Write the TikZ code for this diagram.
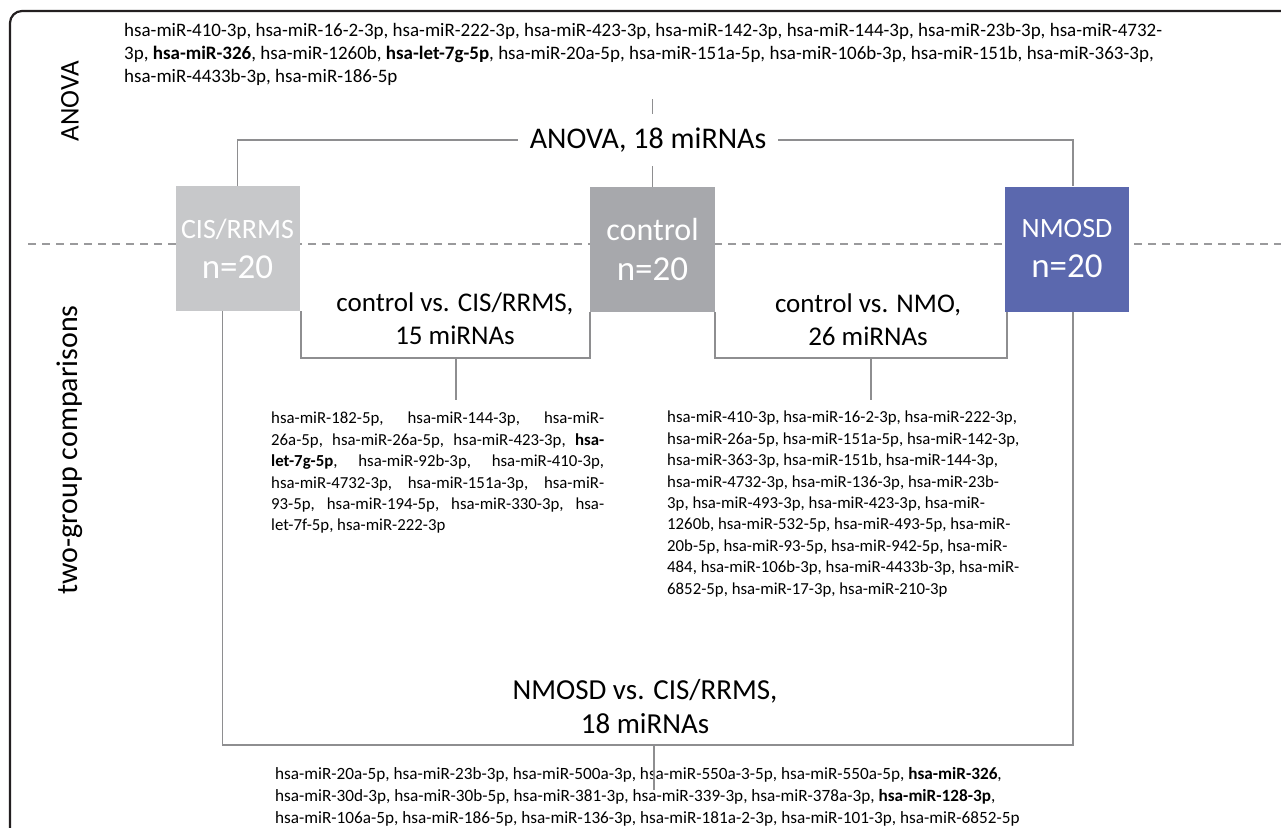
\documentclass[tikz,border=0pt]{standalone}
\usepackage{fontspec}
\setmainfont{Carlito}
\definecolor{framec}{HTML}{231F20}
\definecolor{linkc}{HTML}{8E8E90}
\definecolor{dashc}{HTML}{9A9A9C}
\definecolor{cisc}{HTML}{C7C8CA}
\definecolor{ctrlc}{HTML}{A7A8AC}
\definecolor{nmoc}{HTML}{5B68AE}
\newcommand{\fullline}[1]{\makebox[333pt][s]{#1}}
\begin{document}
\begin{tikzpicture}[x=1pt,y=-1pt,
	link/.style={draw=linkc,line width=1.6pt},
	grp/.style={minimum width=124pt,minimum height=125pt,inner sep=0,text=white,align=center,font=\fontsize{35}{40}\selectfont},
	cmp/.style={align=center,inner sep=2pt,font=\fontsize{27}{33}\selectfont},
	mirs/.style={align=left,inner sep=0,anchor=north west,font=\fontsize{16.8}{21.4}\selectfont},
	tag/.style={rotate=90,font=\fontsize{30}{36}\selectfont}]
	\useasboundingbox (0,0) rectangle (1281,827);
	\draw[framec,line width=2.2pt,rounded corners=12pt] (10,830) -- (10,11) -- (1284,11);
	\draw[dashc,line width=1.4pt,dash pattern=on 8pt off 6pt] (28,244) -- (1281,244);
	\node[tag,font=\fontsize{27}{32}\selectfont] (anovatag) at (70,101) {ANOVA};
	\node[tag] (twotag) at (70,450) {two-group comparisons};
	\node[mirs,font=\fontsize{19}{23}\selectfont] (anovalist) at (124,23) {hsa-miR-410-3p, hsa-miR-16-2-3p, hsa-miR-222-3p, hsa-miR-423-3p, hsa-miR-142-3p, hsa-miR-144-3p, hsa-miR-23b-3p, hsa-miR-4732-\\
		3p, \textbf{hsa-miR-326}, hsa-miR-1260b, \textbf{hsa-let-7g-5p}, hsa-miR-20a-5p, hsa-miR-151a-5p, hsa-miR-106b-3p, hsa-miR-151b, hsa-miR-363-3p,\\
		hsa-miR-4433b-3p, hsa-miR-186-5p};
	\node[grp,fill=cisc] (cis) at (237.5,248.5) {\fontsize{28}{40}\selectfont CIS/RRMS\\n=20};
	\node[grp,fill=ctrlc,minimum width=125pt] (ctrl) at (652.5,249.5) {\fontsize{32}{40}\selectfont control\\n=20};
	\node[grp,fill=nmoc] (nmosd) at (1067,249) {\fontsize{28}{40}\selectfont NMOSD\\n=20};
	\node[inner xsep=12pt,minimum height=52pt,font=\fontsize{30}{36}\selectfont] (anova) at (648,140) {ANOVA, 18 miRNAs};
	\draw[link] (cis.north) |- (anova.west);
	\draw[link] (anova.east) -| ([xshift=6pt]nmosd.north);
	\draw[link] (ctrl.north) -- (ctrl.north |- anova.south);
	\draw[link] (ctrl.north |- anova.north) -- ++(0,-15);
	\coordinate (b1) at (456,358);
	\coordinate (b2) at (871,358);
	\coordinate (b3) at (654,745);
	\node[cmp] (cmp1) at (455,319) {control vs. CIS/RRMS,\\15 miRNAs};
	\node[cmp] (cmp2) at (868,320) {control vs. NMO,\\26 miRNAs};
	\node[cmp,font=\fontsize{29}{34}\selectfont] (cmp3) at (645,707) {NMOSD vs. CIS/RRMS,\\18 miRNAs};
	\draw[link] ([xshift=1pt]cis.south east) |- (b1) -| (ctrl.south west);
	\draw[link] (ctrl.south east) |- (b2) -| ([xshift=2pt]nmosd.south west);
	\draw[link] ([xshift=-15pt]cis.south) |- (b3) -| ([xshift=6pt]nmosd.south);
	\draw[link] (b1) -- ++(0,42);
	\draw[link] (b2) -- ++(0,42);
	\node[mirs] (cislist) at (271,412) {\fullline{hsa-miR-182-5p, hsa-miR-144-3p, hsa-miR-}\\
		\fullline{26a-5p, hsa-miR-26a-5p, hsa-miR-423-3p, \textbf{hsa-}}\\
		\fullline{\textbf{let-7g-5p}, hsa-miR-92b-3p, hsa-miR-410-3p,}\\
		\fullline{hsa-miR-4732-3p, hsa-miR-151a-3p, hsa-miR-}\\
		\fullline{93-5p, hsa-miR-194-5p, hsa-miR-330-3p, hsa-}\\
		let-7f-5p, hsa-miR-222-3p};
	\node[mirs] (nmolist) at (667,411) {hsa-miR-410-3p, hsa-miR-16-2-3p, hsa-miR-222-3p,\\
		hsa-miR-26a-5p, hsa-miR-151a-5p, hsa-miR-142-3p,\\
		hsa-miR-363-3p, hsa-miR-151b, hsa-miR-144-3p,\\
		hsa-miR-4732-3p, hsa-miR-136-3p, hsa-miR-23b-\\
		3p, hsa-miR-493-3p, hsa-miR-423-3p, hsa-miR-\\
		1260b, hsa-miR-532-5p, hsa-miR-493-5p, hsa-miR-\\
		20b-5p, hsa-miR-93-5p, hsa-miR-942-5p, hsa-miR-\\
		484, hsa-miR-106b-3p, hsa-miR-4433b-3p, hsa-miR-\\
		6852-5p, hsa-miR-17-3p, hsa-miR-210-3p};
	\node[mirs,font=\fontsize{17.2}{22}\selectfont] (nmolist2) at (275,767) {hsa-miR-20a-5p, hsa-miR-23b-3p, hsa-miR-500a-3p, hsa-miR-550a-3-5p, hsa-miR-550a-5p, \textbf{hsa-miR-326},\\
		hsa-miR-30d-3p, hsa-miR-30b-5p, hsa-miR-381-3p, hsa-miR-339-3p, hsa-miR-378a-3p, \textbf{hsa-miR-128-3p},\\
		hsa-miR-106a-5p, hsa-miR-186-5p, hsa-miR-136-3p, hsa-miR-181a-2-3p, hsa-miR-101-3p, hsa-miR-6852-5p};
	\draw[link] (b3) -- ++(0,45);
\end{tikzpicture}
\end{document}
